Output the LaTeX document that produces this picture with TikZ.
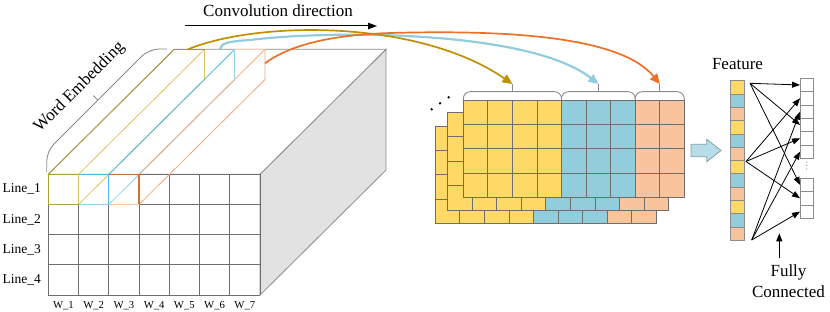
\documentclass[tikz,border=0pt]{standalone}
\usepackage{fontspec}
\setmainfont{Liberation Serif}
\usetikzlibrary{arrows.meta}
\definecolor{myY}{HTML}{FFD966}
\definecolor{myB}{HTML}{92CDDC}
\definecolor{myO}{HTML}{F9C39B}
\definecolor{gridc}{HTML}{6E6E6E}
\definecolor{cubec}{HTML}{8C8C8C}
\definecolor{sideF}{HTML}{E2E2E2}
\definecolor{filOl}{HTML}{B0A040}
\definecolor{filY}{HTML}{E6C060}
\definecolor{filB}{HTML}{45BBE8}
\definecolor{filBl}{HTML}{8FD3EE}
\definecolor{filO}{HTML}{F4A878}
\definecolor{filOd}{HTML}{D07038}
\definecolor{curY}{HTML}{C09000}
\definecolor{curB}{HTML}{92CCDD}
\definecolor{curO}{HTML}{EC7025}
\definecolor{arrF}{HTML}{B7DDE8}
\definecolor{arrD}{HTML}{7F9FAF}
\newcommand\featuremap[2]{%
  \foreach \r in {0,...,3}{%
    \foreach \c/\col in {0/myY,1/myY,2/myY,3/myY,4/myB,5/myB,6/myB,7/myO,8/myO}{%
      \filldraw[fill=\col,draw=gridc,line width=0.8pt] ({#1+\c*24.55},{#2+\r*24.43}) rectangle ++(24.55,24.43);}}}
\begin{document}
\begin{tikzpicture}[x=1pt,y=-1pt,
  big/.style={font=\fontsize{17}{21.5}\selectfont},
  linelab/.style={font=\fontsize{13.5}{16}\selectfont},
  wlab/.style={font=\fontsize{10.7}{13}\selectfont},
  gridline/.style={draw=gridc,line width=0.8pt},
  bracec/.style={draw=cubec,line width=0.9pt},
  fcell/.style={draw=cubec,line width=0.7pt,minimum width=13.3pt,minimum height=13.3pt,inner sep=0pt,outer sep=0pt},
  ocell/.style={draw=cubec,fill=white,line width=0.7pt,minimum width=13.3pt,minimum height=13.33pt,inner sep=0pt,outer sep=0pt},
  fcarr/.style={draw=black,line width=0.8pt,-{Triangle[length=8pt,width=6pt]}},
  curve/.style={line width=1.7pt,-{Triangle[length=10pt,width=9pt]}}
]
\useasboundingbox (0,0) rectangle (830,312);

% ---------- cube ----------
\filldraw[fill=sideF,draw=cubec,line width=0.8pt] (260,174.3) -- (386,49.3) -- (386,170.1) -- (260,295.1) -- cycle;
\filldraw[fill=white,draw=cubec,line width=0.8pt] (48.3,174.3) -- (260,174.3) -- (386,49.3) -- (174.3,49.3) -- cycle;
\foreach \i in {0,...,7}{\draw[gridline] ({48.3+\i*30.243},174.3) -- ({48.3+\i*30.243},295.1);}
\foreach \j in {0,...,4}{\draw[gridline] (48.3,{174.3+\j*30.2}) -- (260,{174.3+\j*30.2});}

% filter lines
\draw[filOl,line width=0.9pt] (48.3,174.3) -- (174.3,49.3);
\draw[filY,line width=0.8pt] (78.54,174.3) -- (204.54,49.3) -- (204.54,79.5) -- (78.54,204.5);
\draw[filB,line width=0.8pt] (108.79,174.3) -- (234.79,49.3);
\draw[filBl,line width=1.3pt] (234.79,49.3) -- (234.79,79.5);
\draw[filBl,line width=0.8pt] (234.79,79.5) -- (108.79,204.5);
\draw[filO,line width=0.8pt] (139.03,174.3) -- (265.03,49.3) -- (265.03,79.5) -- (139.03,204.5);
\draw[filOl!60!gray,line width=1.2pt] (174.3,49.3) -- (204.54,49.3);
\draw[filO!60!white,line width=1.0pt] (234.79,49.3) -- (265.03,49.3);
% front filter cells
\draw[filOl,line width=1.1pt] (78.54,174.3) -- (48.3,174.3) -- (48.3,204.5) -- (78.54,204.5);
\draw[filY,line width=1.0pt] (78.54,174.3) -- (78.54,204.5);
\draw[filB,line width=1.1pt] (78.54,174.3) -- (108.79,174.3) -- (108.79,204.5);
\draw[filBl,line width=1.0pt] (78.54,204.5) -- (108.79,204.5);
\draw[filOd,line width=1.1pt] (108.79,174.3) -- (139.03,174.3) -- (139.03,204.5);
\draw[filO!70!white,line width=1.0pt] (108.79,204.5) -- (139.03,204.5);

% brace word embedding
\draw[bracec,rounded corners=10pt] (46.7,172) -- (46.7,151.3) -- (149,49) -- (167,49);
\draw[bracec] (97.9,100.2) -- (93.3,95.6);
\node[big,rotate=45,inner sep=0pt] (we) at (79.5,87.5) {Word Embedding};

% labels
\foreach \j/\t in {1/Line\_1,2/Line\_2,3/Line\_3,4/Line\_4}{
  \node[linelab] (line\j) at (21.7,{174.3+(\j-0.5)*30.2}) {\t};}
\foreach \i in {1,...,7}{
  \node[wlab] (w\i) at ({48.3+(\i-0.5)*30.243},305.5) {W\_\i};}

% convolution direction
\node[big] (convlabel) at (278,10.5) {Convolution direction};
\coordinate (convs) at (185,26);
\coordinate (conve) at (377,26);
\draw[black,line width=1pt,-{Triangle[length=9pt,width=6.5pt]}] (convs) -- (conve);

% ---------- feature maps ----------
\featuremap{435.3}{126}
\featuremap{447.6}{112.4}
\featuremap{463.3}{100}
\fill[black] (431.7,109.3) circle (1.3) (440,103.3) circle (1.3) (448.7,97.3) circle (1.3);

% braces over map
\draw[bracec,rounded corners=7pt] (463.3,100) -- (463.3,91.7) -- (561.5,91.7) -- (561.5,100);
\draw[bracec,rounded corners=7pt] (561.5,100) -- (561.5,91.7) -- (635.2,91.7) -- (635.2,100);
\draw[bracec,rounded corners=7pt] (635.2,100) -- (635.2,91.7) -- (684.3,91.7) -- (684.3,100);
\coordinate (tipY) at (512.4,84);
\coordinate (tipB) at (598.4,84);
\coordinate (tipO) at (659.8,84);
\draw[bracec] (512.4,91.7) -- (tipY);
\draw[bracec] (598.4,91.7) -- (tipB);
\draw[bracec] (659.8,91.7) -- (tipO);

% curves
\coordinate (srcY) at (188,49.3);
\coordinate (srcB) at (220,49.3);
\coordinate (srcO) at (265.03,63.3);
\draw[curve,curB,line width=2.2pt] (srcB) .. controls (221,43) and (228,41.5) .. (250,40) .. controls (330,30) and (530,30) .. (tipB);
\draw[curve,curY] (srcY) .. controls (260,20) and (420,20) .. (tipY);
\draw[curve,curO] (srcO) .. controls (290,45) and (330,35) .. (390,33) .. controls (500,30) and (620,35) .. (tipO);

% ---------- big arrow ----------
\filldraw[fill=arrF,draw=arrD,line width=0.8pt] (691,144.3) -- (706.7,144.3) -- (706.7,139.3) -- (721,150.5) -- (706.7,161.7) -- (706.7,156.7) -- (691,156.7) -- cycle;

% ---------- feature column ----------
\node[big] (featlabel) at (737.5,64.5) {Feature};
\foreach \i/\col in {1/myY,2/myB,3/myO,4/myY,5/myB,6/myO,7/myY,8/myB,9/myO,10/myY,11/myB,12/myO}{
  \node[fcell,fill=\col] (f\i) at (737.35,{80.7+(\i-0.5)*13.3}) {};}

% ---------- output cells ----------
\foreach \k in {1,...,6}{\node[ocell] (o\k) at (806.7,{78.3+(\k-0.5)*13.33}) {};}
\foreach \k in {7,8,9}{\node[ocell] (o\k) at (806.7,{178.3+(\k-6.5)*13.33}) {};}
\fill[cubec] (806.7,162) circle (0.6) (806.7,165.5) circle (0.6) (806.7,169) circle (0.6);

\coordinate (s1) at (750,83.3);
\coordinate (s2) at (746,161.5);
\coordinate (s3) at (751.7,240);
\foreach \k in {1,4,7}{\draw[fcarr] (s1) -- (o\k.west);}
\foreach \k in {2,5,8}{\draw[fcarr] (s2) -- (o\k.west);}
\foreach \k in {3,6,9}{\draw[fcarr] (s3) -- (o\k.west);}

\node[big,align=center] (fclabel) at (788.5,281) {Fully\\Connected};
\coordinate (fcarrow) at (779.3,233.3);
\draw[black,line width=0.9pt,-{Triangle[length=8pt,width=6pt]}] (779.3,258.3) -- (fcarrow);
\end{tikzpicture}
\end{document}
